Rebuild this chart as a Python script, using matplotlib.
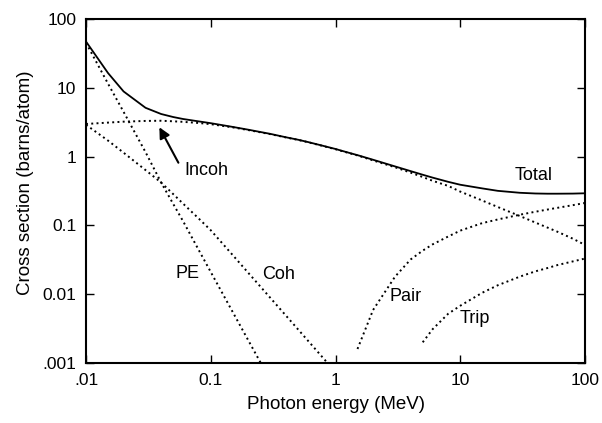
import matplotlib
matplotlib.use("Agg")
import matplotlib.pyplot as plt

plt.rcParams['font.family'] = ['Liberation Sans', 'DejaVu Sans']

# Cross sections in barns/atom versus photon energy in MeV
energy = [0.01, 0.015, 0.02, 0.03, 0.04, 0.05, 0.06, 0.08, 0.1, 0.15, 0.2,
          0.3, 0.4, 0.5, 0.6, 0.8, 1, 1.25, 1.5, 2, 3, 4, 5, 6, 8, 10, 15,
          20, 30, 40, 50, 60, 80, 100]
total = [47, 16.4, 8.85, 5.12, 4.16, 3.76, 3.52, 3.25, 3.06, 2.7, 2.46,
         2.14, 1.91, 1.76, 1.63, 1.43, 1.29, 1.15, 1.05, 0.9, 0.72, 0.615,
         0.545, 0.495, 0.43, 0.39, 0.345, 0.318, 0.298, 0.291, 0.289, 0.289,
         0.29, 0.293]
incoh = [2.98, 3.12, 3.22, 3.3, 3.32, 3.26, 3.2, 3.08, 2.96, 2.66, 2.43,
         2.12, 1.9, 1.75, 1.62, 1.42, 1.28, 1.14, 1.04, 0.88, 0.7, 0.585,
         0.505, 0.445, 0.375, 0.31, 0.23, 0.185, 0.137, 0.11, 0.093, 0.081,
         0.064, 0.052]

pe_energy = [0.01, 0.015, 0.02, 0.03, 0.04, 0.05, 0.06, 0.08, 0.1, 0.15,
             0.2, 0.3]
pe = [45, 11.5, 4.47, 1.16, 0.42, 0.205, 0.115, 0.044, 0.021, 0.0055,
      0.00213, 0.00056]

coh_energy = [0.01, 0.015, 0.02, 0.03, 0.04, 0.05, 0.06, 0.08, 0.1, 0.15,
              0.2, 0.3, 0.4, 0.5, 0.6, 0.8, 1]
coh = [2.9, 1.71, 1.14, 0.637, 0.42, 0.285, 0.207, 0.126, 0.085, 0.037,
       0.0204, 0.00886, 0.0049, 0.00309, 0.00212, 0.00117, 0.00074]

pair_energy = [1.5, 2, 3, 4, 5, 6, 8, 10, 15, 20, 30, 40, 50, 60, 80, 100]
pair = [0.0016, 0.0059, 0.018, 0.032, 0.043, 0.053, 0.069, 0.084, 0.108,
        0.122, 0.143, 0.158, 0.17, 0.18, 0.197, 0.212]

trip_energy = [5, 6, 8, 10, 15, 20, 30, 40, 50, 60, 80, 100]
trip = [0.002, 0.0031, 0.0052, 0.0068, 0.0105, 0.0135, 0.018, 0.0215,
        0.024, 0.0265, 0.03, 0.033]

xticks = [0.01, 0.1, 1, 10, 100]
xticklabels = ['.01', '0.1', '1', '10', '100']
yticks = [0.001, 0.01, 0.1, 1, 10, 100]
yticklabels = ['.001', '0.01', '0.1', '1', '10', '100']

fig = plt.figure(figsize=(6.02, 4.23), dpi=100)
ax = fig.add_axes([0.1429, 0.1418, 0.8289, 0.8133])

dots = (0, (1, 1.7))
ax.plot(energy, total, '-', color='black', lw=1.3)
ax.plot(energy, incoh, linestyle=dots, color='black', lw=1.4)
ax.plot(pe_energy, pe, linestyle=dots, color='black', lw=1.4)
ax.plot(coh_energy, coh, linestyle=dots, color='black', lw=1.4)
ax.plot(pair_energy, pair, linestyle=dots, color='black', lw=1.4)
ax.plot(trip_energy, trip, linestyle=dots, color='black', lw=1.4)

ax.set_xscale('log')
ax.set_yscale('log')
ax.set_xlim(0.01, 100)
ax.set_ylim(0.001, 100)
ax.set_xticks(xticks)
ax.set_xticklabels(xticklabels)
ax.set_yticks(yticks)
ax.set_yticklabels(yticklabels)
ax.minorticks_off()
ax.tick_params(which='major', direction='in', length=6, width=1.0,
               top=True, right=True, labelsize=12.5, pad=7)
for s in ax.spines.values():
    s.set_linewidth(1.5)

ax.set_xlabel('Photon energy (MeV)', fontsize=13.5, labelpad=6)
ax.set_ylabel('Cross section (barns/atom)', fontsize=13.5)
ax.yaxis.set_label_coords(-0.104, 0.525)

# curve labels
fs = 13
ax.text(27.5, 0.527, 'Total', fontsize=fs, ha='left', va='center')
ax.text(0.061, 0.638, 'Incoh', fontsize=fs, ha='left', va='center')
ax.text(0.0517, 0.0201, 'PE', fontsize=fs, ha='left', va='center')
ax.text(0.256, 0.0195, 'Coh', fontsize=fs, ha='left', va='center')
ax.text(2.73, 0.0092, 'Pair', fontsize=fs, ha='left', va='center')
ax.text(9.95, 0.00447, 'Trip', fontsize=fs, ha='left', va='center')
ax.annotate('', xy=(0.0387, 2.67), xytext=(0.055, 0.815),
            arrowprops=dict(arrowstyle='-|>', color='black', lw=1.5,
                            mutation_scale=16, shrinkA=0, shrinkB=0))

fig.savefig('out.png', dpi=100)
